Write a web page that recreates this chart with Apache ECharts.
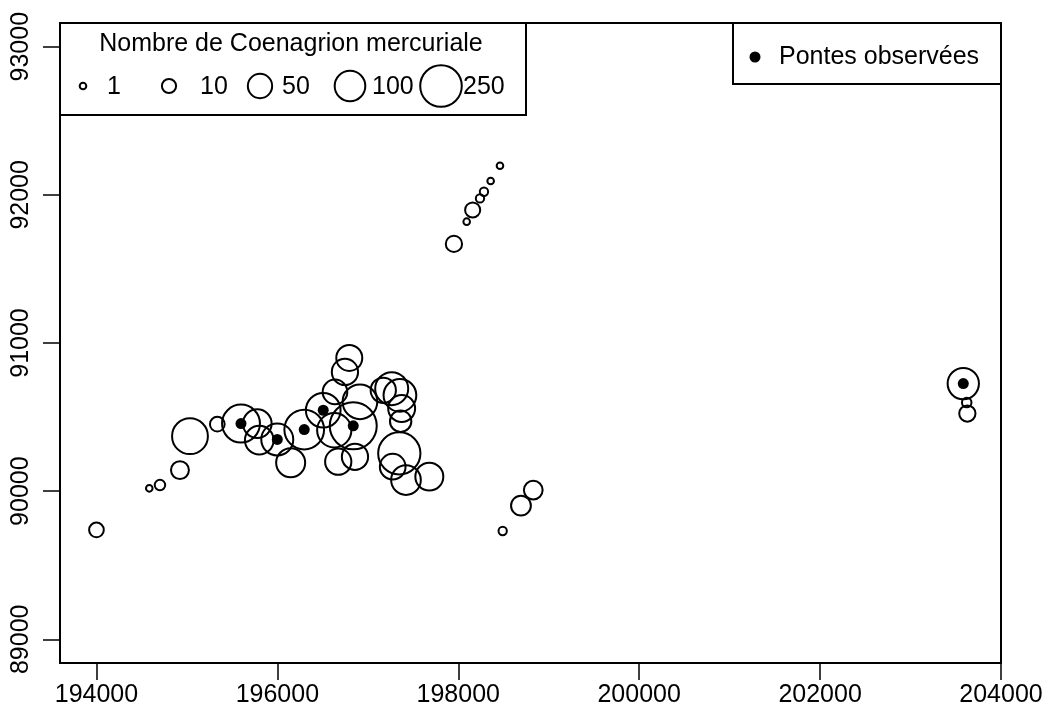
<!DOCTYPE html>
<html>
<head>
<meta charset="utf-8">
<script src="https://cdn.jsdelivr.net/npm/echarts@6/dist/echarts.min.js"></script>
<style>
html,body{margin:0;padding:0;background:#fff;}
#chart{width:1042px;height:714px;}
</style>
</head>
<body>
<div id="chart"></div>
<script>
// ---- data ----
const obsX = [194000,194584,194702,194923,195034,195336,195598,195778,195800,195999,196147,196297,196507,196637,196747,196795,196839,196913,196673,196858,196629,197171,197264,197355,197374,197363,197348,197275,197422,197680,197952,198093,198159,198240,198284,198358,198461,198491,198693,198829,203583,203621,203628];
const obsY = [89738,90019,90041,90142,90371,90452,90456,90456,90344,90349,90192,90416,90546,90670,90805,90899,90441,90603,90199,90232,90411,90681,90692,90647,90558,90472,90255,90165,90075,90098,91669,91819,91898,91976,92021,92093,92196,89731,89902,90007,90726,90598,90524];
const obsCount = [11,1,4,20,160,11,190,82,82,114,85,218,145,52,63,61,361,145,63,63,140,56,125,122,68,34,263,59,91,76,15,1,12,2,2,1,1,2,27,23,107,3,15];
const ponteX = [195598,195999,196297,196507,196839,203583];
const ponteY = [90456,90349,90416,90546,90441,90726];
const legendCounts = [1,10,50,100,250];
const legendLabels = ['1','10','50','100','250'];
const xTicks = [194000,196000,198000,200000,202000,204000];
const yTicks = [89000,90000,91000,92000,93000];
const legendTitle = 'Nombre de Coenagrion mercuriale';
const ponteLabel = 'Pontes observées';

// ---- styling ----
const FONT = 'Liberation Sans, Arial, Helvetica, sans-serif';
const sizeOf = n => 6.6 * Math.cbrt(n);

const chart = echarts.init(document.getElementById('chart'), null, {renderer:'canvas'});

const legendCx = [83,169,260,350,441];
const legendTx = [107,200,282,372,463];
const graphics = [
  {type:'rect', z:100, shape:{x:60,y:23,width:466,height:92}, style:{fill:'#fff',stroke:'#000',lineWidth:2}},
  {type:'text', z:101, x:291, y:44, style:{text:legendTitle, font:'25px '+FONT, fill:'#000', align:'center', verticalAlign:'middle'}},
  {type:'rect', z:100, shape:{x:733,y:23,width:268,height:61}, style:{fill:'#fff',stroke:'#000',lineWidth:2}},
  {type:'circle', z:101, shape:{cx:755,cy:57,r:5.5}, style:{fill:'#000'}},
  {type:'text', z:101, x:779, y:57, style:{text:ponteLabel, font:'25px '+FONT, fill:'#000', align:'left', verticalAlign:'middle'}}
];
legendCounts.forEach((n,i)=>{
  graphics.push({type:'circle', z:101, shape:{cx:legendCx[i],cy:86,r:sizeOf(n)/2}, style:{fill:'none',stroke:'#000',lineWidth:2}});
  graphics.push({type:'text', z:102, x:legendTx[i], y:87, style:{text:legendLabels[i], font:'25px '+FONT, fill:'#000', align:'left', verticalAlign:'middle'}});
});

const option = {
  animation:false,
  backgroundColor:'#fff',
  grid:{left:60, right:41, top:23, bottom:51, outerBoundsMode:'none', containLabel:false, show:true, borderColor:'#000', borderWidth:2, backgroundColor:'transparent'},
  xAxis:{
    type:'value', min:193597, max:204000,
    axisLine:{show:false},
    splitLine:{show:false},
    axisTick:{show:true, customValues:xTicks, length:17, lineStyle:{color:'#000', width:1.5}},
    axisLabel:{customValues:xTicks, margin:20, color:'#000', fontSize:25, fontFamily:FONT, formatter:v=>String(v), hideOverlap:false}
  },
  yAxis:{
    type:'value', min:88840, max:93160,
    axisLine:{show:false},
    splitLine:{show:false},
    axisTick:{show:true, customValues:yTicks, length:17, lineStyle:{color:'#000', width:1.5}},
    axisLabel:{customValues:yTicks, rotate:90, margin:26, color:'#000', fontSize:25, fontFamily:FONT, formatter:v=>String(v), hideOverlap:false}
  },
  series:[
    {
      type:'scatter', symbol:'circle',
      data: obsX.map((x,i)=>[x, obsY[i], obsCount[i]]),
      symbolSize: d => sizeOf(d[2]),
      itemStyle:{color:'transparent', borderColor:'#000', borderWidth:2, opacity:1},
      emphasis:{disabled:true},
      clip:false,
      z:2
    },
    {
      type:'scatter', symbol:'circle',
      data: ponteX.map((x,i)=>[x, ponteY[i]]),
      symbolSize: 11,
      itemStyle:{color:'#000', opacity:1},
      emphasis:{disabled:true},
      clip:false,
      z:3
    }
  ],
  graphic: graphics
};
chart.setOption(option);
</script>
</body>
</html>
